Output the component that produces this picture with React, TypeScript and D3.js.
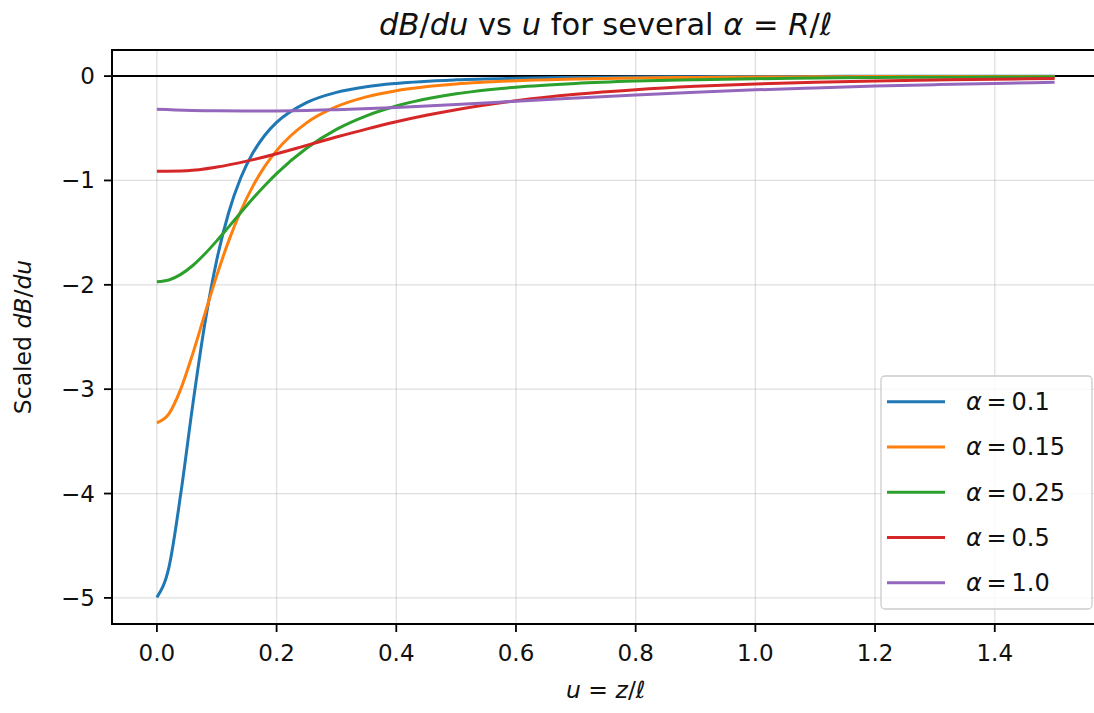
import React from 'react';
import * as d3 from 'd3';

// u grid for the three sharper curves, and coarser grids for the flat ones
const U_FINE = [0, 0.02, 0.04, 0.06, 0.08, 0.1, 0.12, 0.14, 0.16, 0.18, 0.2, 0.25, 0.3, 0.35, 0.4, 0.5, 0.6, 0.7, 0.8, 0.9, 1.0, 1.1, 1.2, 1.3, 1.4, 1.5];
const U_MID = [0, 0.05, 0.1, 0.15, 0.2, 0.25, 0.3, 0.35, 0.4, 0.45, 0.5, 0.6, 0.7, 0.8, 0.9, 1.0, 1.1, 1.2, 1.3, 1.4, 1.5];
const U_COARSE = [0, 0.1, 0.2, 0.3, 0.4, 0.5, 0.6, 0.7, 0.8, 0.9, 1.0, 1.1, 1.2, 1.3, 1.4, 1.5];

const ALPHA_010 = [-4.995, -4.71, -3.998, -3.148, -2.376, -1.763, -1.307, -0.977, -0.74, -0.569, -0.444, -0.254, -0.156, -0.102, -0.07, -0.036, -0.021, -0.013, -0.009, -0.006, -0.004, -0.003, -0.002, -0.002, -0.002, -0.001];
const ALPHA_015 = [-3.322, -3.236, -2.997, -2.659, -2.281, -1.912, -1.579, -1.295, -1.059, -0.868, -0.714, -0.448, -0.293, -0.199, -0.14, -0.076, -0.045, -0.028, -0.019, -0.013, -0.0095, -0.007, -0.005, -0.004, -0.003, -0.003];
const ALPHA_025 = [-1.971, -1.954, -1.9, -1.815, -1.705, -1.579, -1.445, -1.309, -1.176, -1.051, -0.935, -0.692, -0.511, -0.381, -0.287, -0.17, -0.106, -0.07, -0.048, -0.034, -0.025, -0.019, -0.014, -0.011, -0.009, -0.007];
const ALPHA_050 = [-0.911, -0.906, -0.872, -0.815, -0.744, -0.664, -0.584, -0.508, -0.438, -0.376, -0.322, -0.236, -0.174, -0.13, -0.098, -0.075, -0.058, -0.046, -0.037, -0.03, -0.024];
const ALPHA_100 = [-0.318, -0.333, -0.334, -0.322, -0.3, -0.272, -0.241, -0.21, -0.181, -0.155, -0.132, -0.113, -0.096, -0.082, -0.07, -0.06];

const ALPHA_LABELS = ['0.1', '0.15', '0.25', '0.5', '1.0'];
const COLORS = ['#1f77b4', '#ff7f0e', '#2ca02c', '#d62728', '#9467bd'];

const X_TICKS = [0, 0.2, 0.4, 0.6, 0.8, 1.0, 1.2, 1.4];
const Y_TICKS = [0, -1, -2, -3, -4, -5];

const series = [
  { u: U_FINE, v: ALPHA_010 },
  { u: U_FINE, v: ALPHA_015 },
  { u: U_FINE, v: ALPHA_025 },
  { u: U_MID, v: ALPHA_050 },
  { u: U_COARSE, v: ALPHA_100 },
];

const W = 1094;
const H = 713;
const FONT = 'DejaVu Sans, sans-serif';

const App = () => {
  const margin = { left: 112, right: 1099.5, top: 50, bottom: 624 };

  const x = d3.scaleLinear().domain([-0.075, 1.575]).range([margin.left, margin.right]);
  const y = d3.scaleLinear().domain([-5.25, 0.25]).range([margin.bottom, margin.top]);

  const line = d3.line<[number, number]>()
    .x(d => x(d[0]))
    .y(d => y(d[1]))
    .curve(d3.curveMonotoneX);

  const fmtX = d3.format('.1f');
  const fmtY = (d: number) => (d < 0 ? '\u2212' + Math.abs(d) : String(d));

  // legend layout
  const lg = { x: 881, y: 376, w: 211, h: 233, row0: 25.7, step: 45.25 };

  return (
    <svg width={W} height={H} style={{ position: 'absolute', left: 0, top: 0, background: '#fff' }} fontFamily={FONT}>
      <defs>
        <clipPath id="plotArea">
          <rect x={margin.left} y={margin.top} width={margin.right - margin.left} height={margin.bottom - margin.top} />
        </clipPath>
      </defs>

      {/* grid */}
      {X_TICKS.map(t => (
        <line key={'gx' + t} x1={x(t)} x2={x(t)} y1={margin.top} y2={margin.bottom} stroke="#b0b0b0" strokeOpacity={0.4} strokeWidth={1.3} />
      ))}
      {Y_TICKS.map(t => (
        <line key={'gy' + t} x1={margin.left} x2={margin.right} y1={y(t)} y2={y(t)} stroke="#b0b0b0" strokeOpacity={0.4} strokeWidth={1.3} />
      ))}

      {/* zero line */}
      <line x1={margin.left} x2={margin.right} y1={y(0)} y2={y(0)} stroke="#000" strokeWidth={2} />

      {/* curves */}
      <g clipPath="url(#plotArea)">
        {series.map((s, i) => (
          <path
            key={i}
            d={line(s.u.map((u, k) => [u, s.v[k]] as [number, number])) || ''}
            fill="none"
            stroke={COLORS[i]}
            strokeWidth={3}
            strokeLinejoin="round"
          />
        ))}
      </g>

      {/* spines */}
      <rect x={margin.left} y={margin.top} width={margin.right - margin.left} height={margin.bottom - margin.top} fill="none" stroke="#000" strokeWidth={2} />

      {/* x ticks */}
      {X_TICKS.map(t => (
        <g key={'xt' + t}>
          <line x1={x(t)} x2={x(t)} y1={margin.bottom} y2={margin.bottom + 8} stroke="#000" strokeWidth={1.8} />
          <text x={x(t)} y={661} textAnchor="middle" fontSize={23} fill="#111">{fmtX(t)}</text>
        </g>
      ))}

      {/* y ticks */}
      {Y_TICKS.map(t => (
        <g key={'yt' + t}>
          <line x1={margin.left - 8} x2={margin.left} y1={y(t)} y2={y(t)} stroke="#000" strokeWidth={1.8} />
          <text x={95} y={y(t) + 8} textAnchor="end" fontSize={23} fill="#111">{fmtY(t)}</text>
        </g>
      ))}

      {/* title */}
      <text x={(margin.left + margin.right) / 2} y={35} textAnchor="middle" fontSize={30.5} fill="#111">
        <tspan fontStyle="italic">dB</tspan>
        <tspan>/</tspan>
        <tspan fontStyle="italic">du</tspan>
        <tspan> vs </tspan>
        <tspan fontStyle="italic">u</tspan>
        <tspan> for several </tspan>
        <tspan fontStyle="italic">α</tspan>
        <tspan> = </tspan>
        <tspan fontStyle="italic">R</tspan>
        <tspan>/</tspan>
        <tspan fontStyle="italic">ℓ</tspan>
      </text>

      {/* x label */}
      <text x={(margin.left + margin.right) / 2} y={698} textAnchor="middle" fontSize={23.5} fill="#111">
        <tspan fontStyle="italic">u</tspan>
        <tspan> = </tspan>
        <tspan fontStyle="italic">z</tspan>
        <tspan>/</tspan>
        <tspan fontStyle="italic">ℓ</tspan>
      </text>

      {/* y label */}
      <text transform={`translate(31, ${(margin.top + margin.bottom) / 2}) rotate(-90)`} textAnchor="middle" fontSize={23.5} fill="#111">
        <tspan>Scaled </tspan>
        <tspan fontStyle="italic">dB</tspan>
        <tspan>/</tspan>
        <tspan fontStyle="italic">du</tspan>
      </text>

      {/* legend */}
      <rect x={lg.x} y={lg.y} width={lg.w} height={lg.h} rx={4} fill="#fff" fillOpacity={0.8} stroke="#cccccc" strokeWidth={1.3} />
      {ALPHA_LABELS.map((lab, i) => {
        const cy = lg.y + lg.row0 + i * lg.step;
        return (
          <g key={'lg' + i}>
            <line x1={887} x2={945} y1={cy} y2={cy} stroke={COLORS[i]} strokeWidth={3} />
            <text x={966} y={cy + 8.5} fontSize={24} fill="#111">
              <tspan fontStyle="italic">α</tspan>
              <tspan>{'\u2009=\u2009'}</tspan>
              <tspan>{lab}</tspan>
            </text>
          </g>
        );
      })}
    </svg>
  );
};

export default App;
